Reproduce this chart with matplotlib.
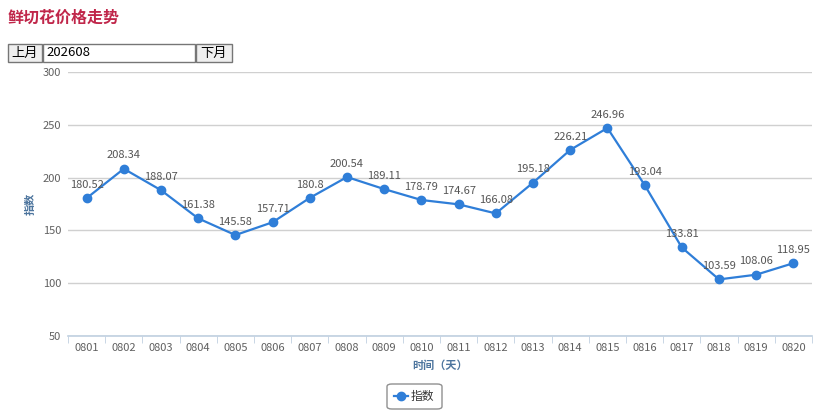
import numpy as np
import matplotlib.pyplot as plt
from matplotlib.patches import Rectangle, FancyBboxPatch
from matplotlib.lines import Line2D

plt.rcParams['font.family'] = ['Noto Sans CJK SC', 'DejaVu Sans']

days = ['0801', '0802', '0803', '0804', '0805', '0806', '0807', '0808', '0809', '0810',
        '0811', '0812', '0813', '0814', '0815', '0816', '0817', '0818', '0819', '0820']
index_values = [180.52, 208.34, 188.07, 161.38, 145.58, 157.71, 180.8, 200.54, 189.11, 178.79,
                174.67, 166.08, 195.18, 226.21, 246.96, 193.04, 133.81, 103.59, 108.06, 118.95]
y_ticks = [50, 100, 150, 200, 250, 300]

W, H = 820, 419
fig = plt.figure(figsize=(W / 100, H / 100), dpi=100)


def fx(px):
    return px / W


def fy(py):
    return 1 - py / H


# page header
fig.text(fx(8), fy(18), '鲜切花价格走势', color='#c0264a', fontsize=11.5, fontweight='bold',
         va='center', ha='left')

# month controls
for x0, x1, label, bg in [(8, 42, '上月', '#efefef'), (43, 195, '202608', 'white'),
                          (196, 232, '下月', '#efefef')]:
    fig.patches.append(Rectangle((fx(x0), fy(62)), fx(x1 - x0), 18 / H, transform=fig.transFigure,
                                 facecolor=bg, edgecolor='#767676', lw=1))
    if label == '202608':
        fig.text(fx(x0 + 3), fy(53), label, fontsize=9.5, va='center', ha='left', color='black')
    else:
        fig.text(fx((x0 + x1) / 2), fy(53), label, fontsize=9.5, va='center', ha='center',
                 color='black')

ax = fig.add_axes([fx(68), fy(336), fx(812 - 68), (336 - 72) / H])
x = np.arange(len(days))
ax.plot(x, index_values, color='#2f7ed8', lw=1.6, marker='o', markersize=6, zorder=3)
for xi, v in zip(x, index_values):
    ax.annotate(f'{v:g}', (xi, v), xytext=(0, 6), textcoords='offset points', ha='center',
                va='bottom', fontsize=8, color='#555555', zorder=4)

ax.set_xlim(-0.5, len(days) - 0.5)
ax.set_ylim(50, 300)
ax.set_yticks(y_ticks)
ax.set_xticks(x)
ax.set_xticklabels(days)
ax.set_xticks(np.arange(len(days) + 1) - 0.5, minor=True)
ax.grid(axis='y', color='#d0d0d0', lw=1)
ax.set_axisbelow(True)
for s in ['top', 'right', 'left']:
    ax.spines[s].set_visible(False)
ax.spines['bottom'].set_color('#c0d0e0')
ax.spines['bottom'].set_linewidth(1.2)
ax.tick_params(axis='x', which='major', length=0, pad=5, labelsize=8, labelcolor='#606060')
ax.tick_params(axis='x', which='minor', length=5, color='#c0d0e0')
ax.tick_params(axis='y', length=0, pad=5, labelsize=8, labelcolor='#606060')
ax.set_xlabel('时间（天）', color='#4d759e', fontsize=8, fontweight='bold', labelpad=4)
ax.set_ylabel('指数', color='#4d759e', fontsize=8, fontweight='bold')
ax.yaxis.set_label_coords((37 - 68) / 744, 0.5)

# legend
fig.patches.append(FancyBboxPatch((fx(387), fy(409)), fx(55), 25 / H, transform=fig.transFigure,
                                  boxstyle='round,pad=0,rounding_size=0.006',
                                  facecolor='white', edgecolor='#909090', lw=1))
fig.lines.append(Line2D([fx(394), fx(401), fx(408)], [fy(396)] * 3, transform=fig.transFigure,
                        color='#2f7ed8', lw=1.6, marker='o', markersize=6, markevery=[1]))
fig.text(fx(411), fy(396), '指数', fontsize=8.5, va='center', ha='left', color='#333333')

fig.savefig('out.png', dpi=100)
